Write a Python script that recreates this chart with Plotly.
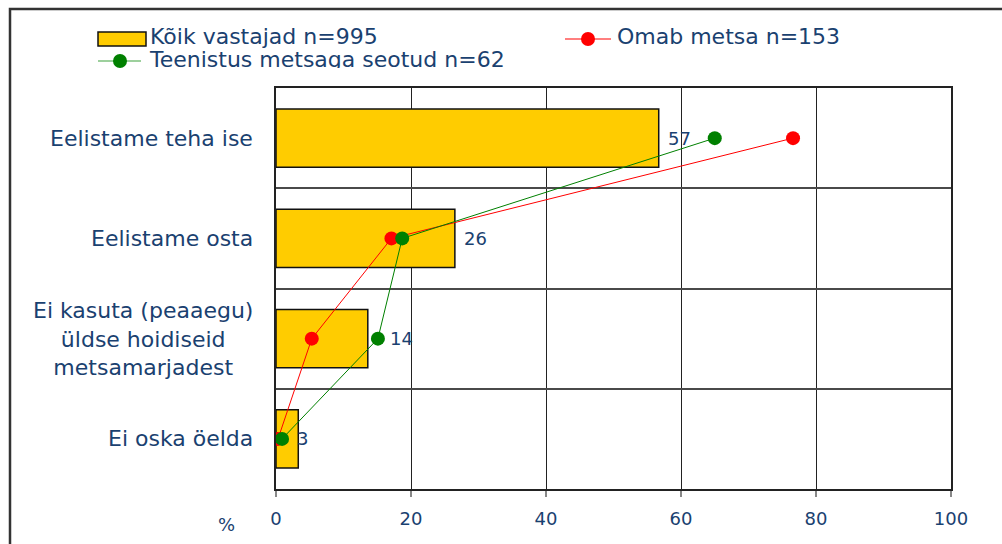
import plotly.graph_objects as go

# ---- data ----
categories = [
    "Eelistame teha ise",
    "Eelistame osta",
    "Ei kasuta (peaaegu)<br>üldse hoidiseid<br>metsamarjadest",
    "Ei oska öelda",
]
all_respondents = [56.7, 26.5, 13.6, 3.3]
bar_labels = ["57", "26", "14", "3"]
owns_forest = [76.6, 17.1, 5.3, 0.3]
forest_job = [65.0, 18.7, 15.1, 0.9]
series_names = ["Kõik vastajad n=995", "Omab metsa n=153", "Teenistus metsaga seotud n=62"]
x_ticks = [0, 20, 40, 60, 80, 100]

# label pixel offsets from bar end (style only)
label_shift = [7, 7, 20, -3]

TXT = "#1A4170"
FONT = "DejaVu Sans"
W, H = 1002, 544
# plot area in pixels
PX0, PX1, PY0, PY1 = 276, 951, 88, 489

fig = go.Figure()

fig.add_trace(go.Bar(
    x=all_respondents, y=categories, orientation="h", width=0.58,
    marker=dict(color="#FFCC00", line=dict(color="#111111", width=1.5)),
    showlegend=False, hoverinfo="skip",
))
fig.add_trace(go.Scatter(
    x=owns_forest, y=categories, mode="lines+markers",
    line=dict(color="#FF0000", width=1), marker=dict(color="#FF0000", size=14),
    showlegend=False,
))
fig.add_trace(go.Scatter(
    x=forest_job, y=categories, mode="lines+markers",
    line=dict(color="#008000", width=1), marker=dict(color="#008000", size=14),
    showlegend=False,
))

# ---- hand-drawn legend in a pixel-coordinate subplot (clipped at bottom) ----
LEG_BOTTOM = 68
fig.add_trace(go.Scatter(x=[565, 611], y=[39, 39], mode="lines", line=dict(color="#FF0000", width=1.2),
                         xaxis="x2", yaxis="y2", showlegend=False, hoverinfo="skip"))
fig.add_trace(go.Scatter(x=[588], y=[39], mode="markers", marker=dict(color="#FF0000", size=14),
                         xaxis="x2", yaxis="y2", showlegend=False, hoverinfo="skip"))
fig.add_trace(go.Scatter(x=[98, 141], y=[61, 61], mode="lines", line=dict(color="#7CC07C", width=1.5),
                         xaxis="x2", yaxis="y2", showlegend=False, hoverinfo="skip"))
fig.add_trace(go.Scatter(x=[120], y=[61], mode="markers", marker=dict(color="#008000", size=14),
                         xaxis="x2", yaxis="y2", showlegend=False, hoverinfo="skip"))
fig.add_trace(go.Scatter(
    x=[150, 617, 150], y=[38, 38, 61], mode="text", text=series_names,
    textposition="middle right", textfont=dict(family=FONT, size=22, color=TXT),
    xaxis="x2", yaxis="y2", showlegend=False, hoverinfo="skip", cliponaxis=True,
))
fig.add_shape(type="rect", xref="x2", yref="y2", x0=98, x1=146, y0=32, y1=46,
              fillcolor="#FFCC00", line=dict(color="#111111", width=1.5))

# outer frame
fig.add_shape(type="rect", xref="paper", yref="paper",
              x0=10 / W, x1=1.2, y0=-0.2, y1=(H - 9) / H,
              line=dict(color="#333333", width=2.5), fillcolor="rgba(0,0,0,0)", layer="above")

annotations = []
for c in categories:
    annotations.append(dict(
        x=255 / W, xref="paper", y=c, yref="y", text=c, showarrow=False,
        xanchor="right", yanchor="middle", align="center",
        font=dict(family=FONT, size=22, color=TXT),
    ))
for c, v, t, s in zip(categories, all_respondents, bar_labels, label_shift):
    annotations.append(dict(
        x=v, xref="x", y=c, yref="y", text=t, showarrow=False,
        xanchor="left", yanchor="middle", xshift=s,
        font=dict(family=FONT, size=18, color=TXT),
    ))
annotations.append(dict(
    x=226 / W, y=(H - 524) / H, xref="paper", yref="paper", text="%", showarrow=False,
    xanchor="center", yanchor="middle", font=dict(family=FONT, size=18, color=TXT),
))

fig.update_layout(
    width=W, height=H,
    margin=dict(l=0, r=0, t=0, b=0, autoexpand=False),
    paper_bgcolor="white", plot_bgcolor="white",
    bargap=0.42,
    xaxis=dict(
        domain=[PX0 / W, PX1 / W], range=[0, 100], tickvals=x_ticks,
        showgrid=True, gridcolor="#222222", gridwidth=1,
        ticks="outside", ticklen=6, tickcolor="#888888", tickwidth=1.5,
        showline=True, linecolor="#222222", linewidth=2, mirror=True,
        tickfont=dict(family=FONT, size=18, color=TXT), ticklabelstandoff=6,
        zeroline=False, fixedrange=True, automargin=False,
    ),
    yaxis=dict(
        domain=[(H - PY1) / H, (H - PY0) / H], type="category",
        categoryorder="array", categoryarray=categories, autorange="reversed",
        tickson="boundaries", showgrid=True, gridcolor="#4a4a4a", gridwidth=1.5,
        showticklabels=False, ticks="",
        showline=True, linecolor="#222222", linewidth=1.5, mirror=True,
        fixedrange=True, automargin=False,
    ),
    xaxis2=dict(domain=[0, 1], range=[0, W], visible=False, anchor="y2", fixedrange=True),
    yaxis2=dict(domain=[(H - LEG_BOTTOM) / H, 1], range=[LEG_BOTTOM, 0], visible=False,
                anchor="x2", fixedrange=True),
    annotations=annotations,
    showlegend=False,
)

fig.write_html(
    "out.html",
    config={"displayModeBar": False},
    post_script="document.body.style.margin='0px';document.body.style.overflow='hidden';",
)
